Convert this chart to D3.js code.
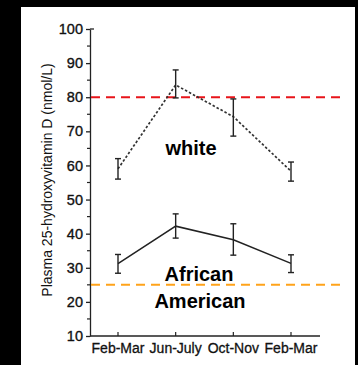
<!DOCTYPE html>
<html>
<head>
<meta charset="utf-8">
<script src="https://cdn.jsdelivr.net/npm/d3@7"></script>
<style>
  html, body { margin: 0; padding: 0; background: #000; }
  svg { display: block; }
</style>
</head>
<body>
<svg width="358" height="365"></svg>
<script>
// data
const seasons = ["Feb-Mar", "Jun-July", "Oct-Nov", "Feb-Mar"];
const whiteMean = [59, 83.6, 74.3, 58.3];
const whiteLow = [56, 79.8, 68.6, 55.4];
const whiteHigh = [62, 88, 79.5, 61];
const blackMean = [31.2, 42.2, 38.2, 31.3];
const blackLow = [28.4, 38.7, 33.7, 28.6];
const blackHigh = [33.9, 45.8, 42.9, 33.8];
const yTicks = [10, 20, 30, 40, 50, 60, 70, 80, 90, 100];
const refLines = [{ value: 80, color: "#e8141a" }, { value: 25, color: "#ffa31a" }];

const svg = d3.select("svg");

svg.append("rect")
    .attr("x", 21).attr("y", 7)
    .attr("width", 334).attr("height", 358)
    .attr("fill", "#fff");

const x = d3.scaleLinear().domain([0, 3]).range([118, 291]);
const y = d3.scaleLinear().domain([10, 100]).range([336, 29]);

const tickFont = "'Liberation Sans Narrow', 'Arial Narrow', Arial, sans-serif";

// y axis
const yAxis = svg.append("g")
    .attr("transform", "translate(90,0)")
    .call(d3.axisLeft(y).tickValues(yTicks).tickSize(4).tickSizeOuter(0).tickPadding(3));
yAxis.selectAll("text")
    .style("font-family", tickFont).style("font-size", "14.5px")
    .attr("fill", "#111").attr("stroke", "#111").attr("stroke-width", 0.35);
yAxis.selectAll("line, path").attr("stroke", "#222").attr("stroke-width", 1.3);
// minor ticks
yAxis.selectAll(".minor")
    .data(d3.range(15, 100, 10))
    .join("line")
    .attr("x1", -3).attr("x2", 0)
    .attr("y1", d => y(d)).attr("y2", d => y(d))
    .attr("stroke", "#222").attr("stroke-width", 1.2);
yAxis.append("line")
    .attr("x1", 0).attr("x2", 4)
    .attr("y1", y(100)).attr("y2", y(100))
    .attr("stroke", "#222").attr("stroke-width", 1.3);

// x axis
const xAxis = svg.append("g")
    .attr("transform", `translate(0,${y(10)})`);
xAxis.append("line")
    .attr("x1", 90).attr("x2", 320)
    .attr("stroke", "#222").attr("stroke-width", 1.3);
xAxis.selectAll(".xt")
    .data(seasons)
    .join("line")
    .attr("x1", (d, i) => x(i)).attr("x2", (d, i) => x(i))
    .attr("y1", 0).attr("y2", -4)
    .attr("stroke", "#222").attr("stroke-width", 1.2);
xAxis.selectAll(".xl")
    .data(seasons)
    .join("text")
    .attr("x", (d, i) => x(i))
    .attr("y", 17)
    .attr("text-anchor", "middle")
    .style("font-family", tickFont)
    .style("font-size", "14px")
    .attr("fill", "#111").attr("stroke", "#111").attr("stroke-width", 0.3)
    .text(d => d);

// y label
svg.append("text")
    .attr("transform", `translate(52,180) rotate(-90)`)
    .attr("text-anchor", "middle")
    .style("font-family", "Arial, 'Liberation Sans', sans-serif")
    .style("font-size", "14px")
    .attr("fill", "#111")
    .text("Plasma 25-hydroxyvitamin D (nmol/L)");

// reference lines
svg.selectAll(".ref")
    .data(refLines)
    .join("line")
    .attr("x1", 91).attr("x2", 340)
    .attr("y1", d => y(d.value)).attr("y2", d => y(d.value))
    .attr("stroke", d => d.color)
    .attr("stroke-width", 2)
    .attr("stroke-dasharray", "9,6");

function drawSeries(mean, low, high, dash) {
    const g = svg.append("g");
    const line = d3.line().x((d, i) => x(i)).y(d => y(d));
    g.append("path")
        .datum(mean)
        .attr("d", line)
        .attr("fill", "none")
        .attr("stroke", dash ? "#333" : "#222")
        .attr("stroke-width", dash ? 1.7 : 1.5)
        .attr("stroke-dasharray", dash || null);
    const bars = g.selectAll(".eb").data(mean).join("g");
    bars.append("line")
        .attr("x1", (d, i) => x(i)).attr("x2", (d, i) => x(i))
        .attr("y1", (d, i) => y(low[i])).attr("y2", (d, i) => y(high[i]));
    bars.append("line")
        .attr("x1", (d, i) => x(i) - 3).attr("x2", (d, i) => x(i) + 3)
        .attr("y1", (d, i) => y(low[i])).attr("y2", (d, i) => y(low[i]));
    bars.append("line")
        .attr("x1", (d, i) => x(i) - 3).attr("x2", (d, i) => x(i) + 3)
        .attr("y1", (d, i) => y(high[i])).attr("y2", (d, i) => y(high[i]));
    bars.selectAll("line").attr("stroke", "#222").attr("stroke-width", 1.4);
}

drawSeries(whiteMean, whiteLow, whiteHigh, "2.5,2");
drawSeries(blackMean, blackLow, blackHigh, null);

// group labels
const labelFont = "Arial, 'Liberation Sans', sans-serif";
const labels = [
    { text: "white", x: 191, y: 155 },
    { text: "African", x: 199, y: 281 },
    { text: "American", x: 200, y: 308 }
];
svg.selectAll(".lab")
    .data(labels)
    .join("text")
    .attr("x", d => d.x).attr("y", d => d.y)
    .attr("text-anchor", "middle")
    .style("font-family", labelFont)
    .style("font-size", "20px")
    .style("font-weight", "bold")
    .attr("fill", "#000")
    .text(d => d.text);
</script>
</body>
</html>
